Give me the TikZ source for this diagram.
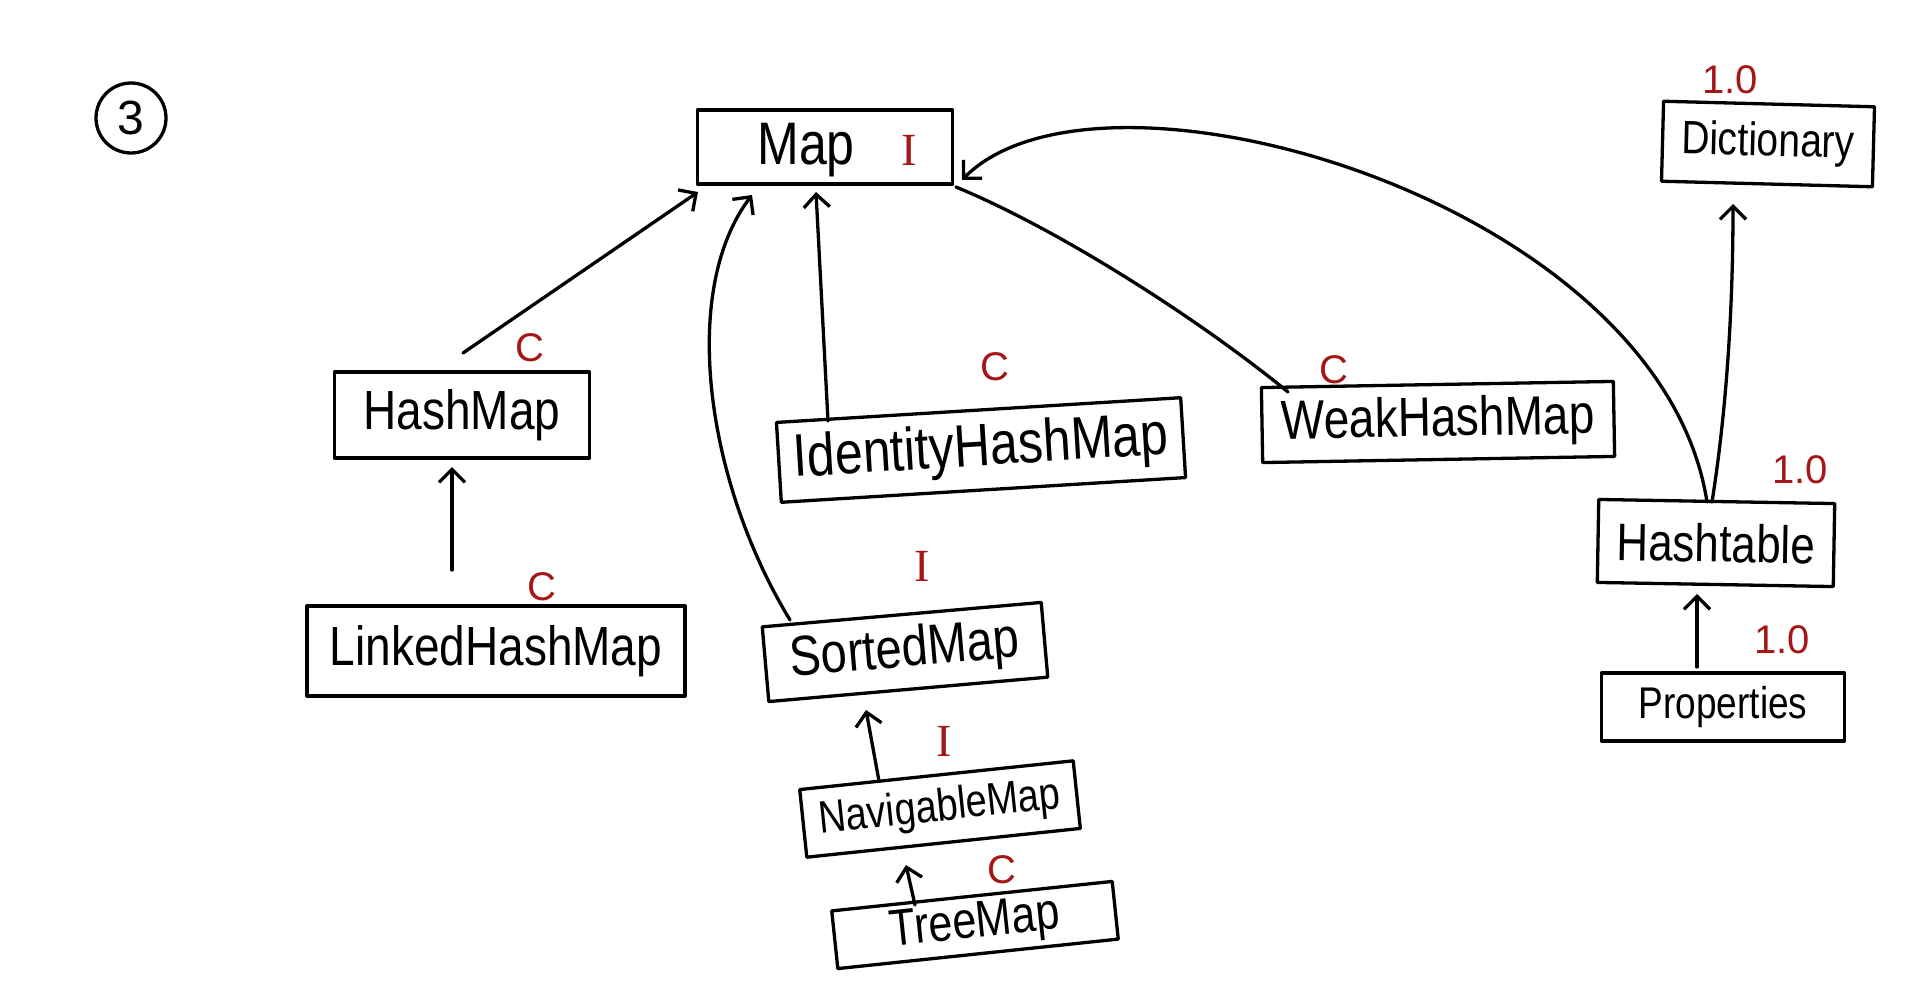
\documentclass[tikz,border=0pt]{standalone}
\usepackage{graphicx}
\usepackage{fontspec}
\setmainfont{Liberation Sans}
\newfontfamily\serifI{Liberation Serif}
\usetikzlibrary{arrows.meta,calc}
\definecolor{hred}{RGB}{165,22,22}
\newcommand\tall[1]{\scalebox{1}[1.2]{#1}}
\begin{document}
\begin{tikzpicture}[x=1pt,y=-1pt,line width=3.3pt,line cap=round,line join=round,
  box/.style={draw,inner sep=0pt,font=\fontsize{#1}{#1}\selectfont},
  box/.default=46,
  tag/.style={text=hred,inner sep=0pt,font=\fontsize{40}{40}\selectfont},
  tagI/.style={text=hred,inner sep=0pt,font=\serifI\fontsize{46}{46}\selectfont},
  arr/.style={-{Straight Barb[length=13pt,width=26pt]}}]
\fill[white] (0,0) rectangle (1920,1001);
\useasboundingbox (0,0) rectangle (1920,1001);

% number circle
\node[draw,circle,minimum size=70,inner sep=0pt,font=\fontsize{48}{48}\selectfont] (num) at (131,118) {3};

% boxes
\node[box,minimum width=255,minimum height=74] (map) at (825,147) {};
\node[inner sep=0pt,font=\fontsize{50}{50}\selectfont] (maptxt) at (806,150) {\tall{Map}};
\node[tagI] (mapI) at (909,150) {I};

\node[box=46,minimum width=255,minimum height=86] (hm) at (462,415) {\tall{HashMap}};
\node[box=46,minimum width=378,minimum height=90] (lhm) at (496,651) {\tall{LinkedHashMap}};
\node[box=50,minimum width=405,minimum height=80,rotate=3.5] (ihm) at (981,450) {\tall{IdentityHashMap}};
\node[box=46,minimum width=352,minimum height=75,rotate=1] (whm) at (1438,422) {\tall{WeakHashMap}};
\node[box=47,minimum width=280,minimum height=75,rotate=5] (sm) at (905,652) {\tall{SortedMap}};
\node[box=38,minimum width=275,minimum height=68,rotate=6] (nm) at (940,809) {\tall{NavigableMap}};
\node[box=43,minimum width=282,minimum height=58,rotate=6] (tm) at (975,925) {\tall{TreeMap}};
\node[box=39,minimum width=211,minimum height=80,rotate=-1.5] (dict) at (1768,144) {\tall{Dictionary}};
\node[box=44,minimum width=236,minimum height=83,rotate=-1] (ht) at (1716,543) {\tall{Hashtable}};
\node[box=37,minimum width=243,minimum height=68] (prop) at (1723,707) {\tall{Properties}};

% red tags
\node[tag] (hmC) at (530,348) {C};
\node[tag] (lhmC) at (542,587) {C};
\node[tag] (ihmC) at (995,367) {C};
\node[tag] (whmC) at (1334,370) {C};
\node[tagI] (smI) at (922,566) {I};
\node[tagI] (nmI) at (944,741) {I};
\node[tag] (tmC) at (1002,870) {C};
\node[tag] (dictV) at (1730,80) {1.0};
\node[tag] (htV) at (1800,470) {1.0};
\node[tag] (propV) at (1782,640) {1.0};

% connectors
\draw[arr] ($(hm.center)+(1,-62)$) -- ($(map.center)+(-127,45)$);
\draw[arr] ($(lhm.center)+(-44,-81)$) -- ($(hm.center)+(-10,52)$);
\draw[arr] ($(sm.center)+(-115,-32)$) .. controls (705,480) and (680,290) .. ($(map.center)+(-73,48)$);
\draw[arr] ($(ihm.center)+(-153,-29)$) -- ($(map.center)+(-9,45)$);
\draw ($(whm.center)+(-150,-30)$) .. controls (1200,320) and (1060,230) .. ($(map.center)+(131,40)$);
\draw[arr] ($(ht.center)+(-9,-41)$) .. controls (1660,200) and (1100,40) .. ($(map.center)+(137,33)$);
\draw[arr] ($(ht.center)+(-4,-41)$) .. controls (1725,420) and (1733,320) .. ($(dict.center)+(-35,60)$);
\draw[arr] ($(nm.center)+(-61,-28)$) -- ($(sm.center)+(-39,58)$);
\draw[arr] ($(tm.center)+(-60,-20)$) -- ($(nm.center)+(-34,56)$);
\draw[arr] ($(prop.center)+(-26,-40)$) -- ($(ht.center)+(-19,51)$);
\end{tikzpicture}
\end{document}
